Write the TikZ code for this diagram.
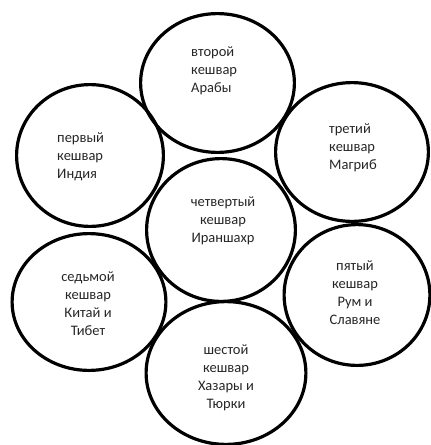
\documentclass[tikz,border=0pt]{standalone}
\usepackage{fontspec}
\setmainfont{Carlito}
\usetikzlibrary{shapes.geometric}

\begin{document}
\begin{tikzpicture}[x=1pt, y=-1pt,
    kesh/.style={draw, ellipse, line width=3.2pt, inner sep=0pt},
    txt/.style={inner sep=0pt, text=black!85, font=\fontsize{14.5}{18}\selectfont}]
    % frame
    \useasboundingbox(0,0)rectangle(431,445);
    % circles
    \node[kesh, minimum width=146.8pt, minimum height=141.8pt](k1)at(90,155.5){};
    \node[kesh, minimum width=153.8pt, minimum height=138.8pt](k2)at(217.5,83){};
    \node[kesh, minimum width=152.8pt, minimum height=138.8pt](k3)at(352,152){};
    \node[kesh, minimum width=148.8pt, minimum height=142.8pt](k4)at(221,230){};
    \node[kesh, minimum width=145.8pt, minimum height=140.8pt](k5)at(357,295){};
    \node[kesh, minimum width=159.8pt, minimum height=142.8pt](k6)at(226,373){};
    \node[kesh, minimum width=153.8pt, minimum height=136.8pt](k7)at(89,302){};
    % names
    \node[txt, align=left, anchor=west](t1)at(57,157){первый\\кешвар\\Индия};
    \node[txt, align=left, anchor=west](t2)at(191,71){второй\\кешвар\\Арабы};
    \node[txt, align=left, anchor=west](t3)at(329,147.5){третий\\кешвар\\Магриб};
    \node[txt, align=center](t4)at(223,221){четвертый\\кешвар\\Ираншахр};
    \node[txt, align=center](t5)at(355,292.5){пятый\\кешвар\\Рум и\\Славяне};
    \node[txt, align=center](t6)at(226,377.5){шестой\\кешвар\\Хазары и\\Тюрки};
    \node[txt, align=center](t7)at(88,304){седьмой\\кешвар\\Китай и\\Тибет};
\end{tikzpicture}
\end{document}
